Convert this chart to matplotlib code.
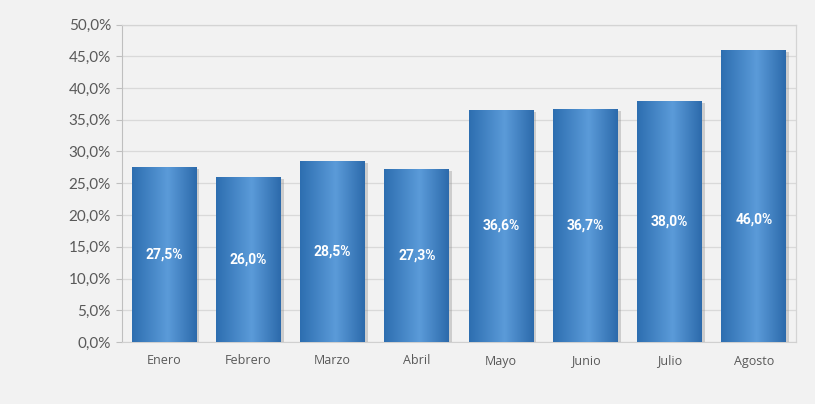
import matplotlib
matplotlib.use("Agg")
import matplotlib.pyplot as plt
import numpy as np
from matplotlib import patheffects
from matplotlib.colors import LinearSegmentedColormap

months = ["Enero", "Febrero", "Marzo", "Abril", "Mayo", "Junio", "Julio", "Agosto"]
values = [27.5, 26.0, 28.5, 27.3, 36.6, 36.7, 38.0, 46.0]
yticks = [0, 5, 10, 15, 20, 25, 30, 35, 40, 45, 50]

# vertical position of each value label as a fraction of the bar height (style)
label_frac = [0.5, 0.5, 0.5, 0.5, 0.5, 0.5, 0.5, 0.42]

bg = "#f2f2f2"
fig = plt.figure(figsize=(8.15, 4.04), dpi=100, facecolor=bg)
ax = fig.add_axes([122/815, 1 - 342/404, (796-122)/815, (342-24.5)/404])
ax.set_facecolor(bg)

x = np.arange(len(months))
bars = ax.bar(x, values, width=0.77, color="none", zorder=3)

cmap = LinearSegmentedColormap.from_list(
    "g", [(0, "#2d6eb0"), (0.55, "#5b9bd9"), (1, "#2c6aab")])
grad = np.linspace(0, 1, 256).reshape(1, -1)

for b, v, fr in zip(bars, values, label_frac):
    x0, w, h = b.get_x(), b.get_width(), b.get_height()
    b.set_path_effects([patheffects.SimplePatchShadow(offset=(2, -1.5), shadow_rgbFace="#8a8a8a", alpha=0.35)])
    im = ax.imshow(grad, cmap=cmap, aspect="auto", extent=(x0, x0 + w, 0, h), zorder=3.5,
                   interpolation="bicubic")
    im.set_clip_path(b)
    ax.text(x0 + w/2, h*fr, f"{v:.1f}%".replace(".", ","), ha="center", va="center",
            color="white", fontsize=10, fontweight="bold",
            family=["Roboto", "DejaVu Sans"], zorder=5)

ax.set_xlim(-0.5, len(months) - 0.5)
ax.set_ylim(0, 50)
ax.set_yticks(yticks)
ax.set_yticklabels([f"{t:.1f}%".replace(".", ",") for t in yticks])
ax.set_xticks(x)
ax.set_xticklabels(months)
ax.yaxis.grid(True, color="#d9d9d9", linewidth=0.9, zorder=0)
ax.set_axisbelow(True)
for s in ["top", "right"]:
    ax.spines[s].set_color("#d4d4d4")
    ax.spines[s].set_linewidth(0.9)
ax.spines["left"].set_color("#bfbfbf")
ax.spines["bottom"].set_color("#d0d0d0")
ax.tick_params(axis="y", colors="#bfbfbf", labelcolor="#595959", labelsize=11, length=4, pad=4)
ax.tick_params(axis="x", length=0, labelcolor="#595959", labelsize=9.5, pad=9)
for lab in ax.get_yticklabels() + ax.get_xticklabels():
    lab.set_family(["Lato", "DejaVu Sans"])
for lab in ax.get_xticklabels():
    lab.set_family(["Open Sans", "DejaVu Sans"])
    lab.set_fontsize(9)

fig.savefig("out.png", dpi=100, facecolor=bg)
